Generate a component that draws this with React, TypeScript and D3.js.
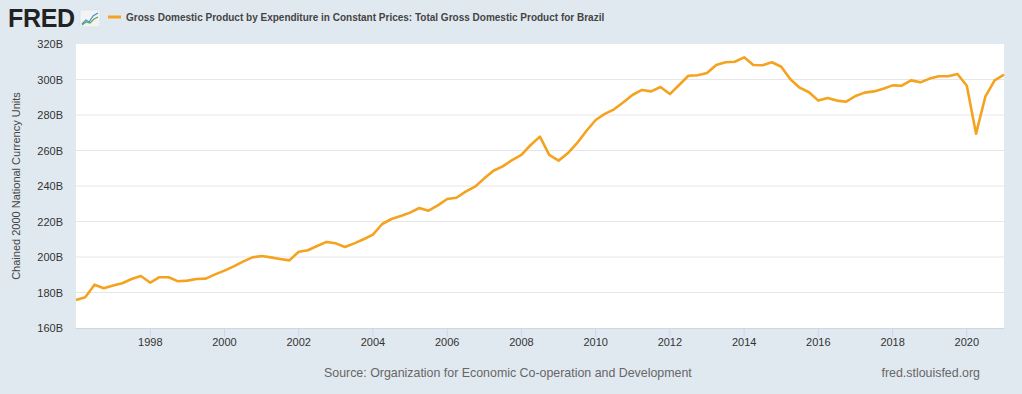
import * as d3 from "d3";

const START_YEAR = 1996;
// quarterly, 1996Q1 .. 2021Q1, billions
const gdp = [
  175.8, 177.3, 184.4, 182.4, 184.0, 185.2, 187.6, 189.3,
  185.5, 188.6, 188.6, 186.3, 186.7, 187.6, 187.8, 190.2,
  192.3, 194.7, 197.4, 199.8, 200.6, 199.8, 198.9, 198.1,
  203.0, 203.8, 206.2, 208.5, 207.7, 205.6, 207.7, 210.0,
  212.6, 218.6, 221.4, 223.1, 225.0, 227.6, 226.1, 229.1,
  232.7, 233.4, 236.8, 239.6, 244.3, 248.6, 251.1, 254.6,
  257.5, 263.1, 267.8, 257.5, 254.3, 258.4, 264.1, 271.0,
  277.2, 280.6, 283.2, 287.2, 291.4, 294.1, 293.3, 295.8,
  291.8, 296.9, 302.1, 302.4, 303.7, 308.2, 309.7, 310.0,
  312.5, 308.2, 308.0, 309.7, 307.2, 300.1, 295.4, 292.8,
  288.1, 289.6, 288.1, 287.5, 290.7, 292.6, 293.3, 294.8,
  296.7, 296.5, 299.5, 298.4, 300.5, 301.8, 301.8, 303.1,
  296.5, 269.5, 290.3, 299.5, 302.7,
];
const yTicks = [160, 180, 200, 220, 240, 260, 280, 300, 320];
const xTickYears = [1998, 2000, 2002, 2004, 2006, 2008, 2010, 2012, 2014, 2016, 2018, 2020];

const TITLE = "Gross Domestic Product by Expenditure in Constant Prices: Total Gross Domestic Product for Brazil";
const Y_LABEL = "Chained 2000 National Currency Units";
const SOURCE = "Source: Organization for Economic Co-operation and Development";

const W = 1022, H = 394;
const BG = "#e1e9f0";
const LINE = "#f5a21f";
const FONT = "'Liberation Sans', Arial, sans-serif";

const qDate = (i: number) => new Date(START_YEAR + Math.floor(i / 4), (i % 4) * 3, 1);

export default function App() {
  const x = d3.scaleTime()
    .domain([new Date(1996, 0, 1), new Date(2021, 0, 1)])
    .range([76, 1004]);
  const y = d3.scaleLinear().domain([160, 320]).range([328, 44]);

  const line = d3.line<number>()
    .x((_, i) => x(qDate(i)))
    .y((d) => y(d));

  const [x0, x1] = x.range();
  const [y0, y1] = y.range();

  return (
    <svg width={W} height={H} style={{ position: "absolute", left: 0, top: 0, fontFamily: FONT }}>
      <rect width={W} height={H} fill={BG} />

      {/* header: logo + legend */}
      <text x={8} y={27} fontSize={25} fontWeight={700} fill="#222" letterSpacing={-0.3}>FRED</text>
      <g transform="translate(80,10)">
        <rect width={20} height={17} rx={2} fill="#f1f3f4" stroke="#d6dbe0" strokeWidth={0.5} />
        <polyline points="2,14 6,10 9,12 13,6 18,3" fill="none" stroke="#4a90c8" strokeWidth={1.2} />
        <polyline points="2,15 6,12 10,13 14,9 18,7" fill="none" stroke="#5aa55a" strokeWidth={1.2} />
      </g>
      <line x1={108} x2={121} y1={17} y2={17} stroke={LINE} strokeWidth={3} />
      <text x={126} y={21} fontSize={10} fontWeight={700} fill="#444">{TITLE}</text>

      {/* plot area */}
      <rect x={x0} y={y1} width={x1 - x0} height={y0 - y1} fill="#fff" />
      {yTicks.slice(1, -1).map((t) => (
        <line key={t} x1={x0} x2={x1} y1={y(t)} y2={y(t)} stroke="#e6e6e6" strokeWidth={1} />
      ))}
      <line x1={x0} x2={x1} y1={y0 + 0.5} y2={y0 + 0.5} stroke="#ccd6eb" strokeWidth={1} />
      {yTicks.map((t) => (
        <text key={t} x={63} y={y(t) + 4} fontSize={11} fill="#333" textAnchor="end">{t}B</text>
      ))}
      {xTickYears.map((yr) => {
        const px = x(new Date(yr, 0, 1));
        return (
          <g key={yr}>
            <line x1={px} x2={px} y1={y0} y2={y0 + 9} stroke="#ccd6eb" strokeWidth={1} />
            <text x={px} y={346} fontSize={11} fill="#333" textAnchor="middle">{yr}</text>
          </g>
        );
      })}
      <text transform={`translate(20,186) rotate(-90)`} fontSize={11} fill="#444" textAnchor="middle">{Y_LABEL}</text>

      <path d={line(gdp) ?? ""} fill="none" stroke={LINE} strokeWidth={2.6} strokeLinejoin="round" />

      {/* footer */}
      <text x={324} y={377} fontSize={12.4} fill="#666">{SOURCE}</text>
      <text x={980} y={377} fontSize={12.4} fill="#666" textAnchor="end">fred.stlouisfed.org</text>
    </svg>
  );
}
